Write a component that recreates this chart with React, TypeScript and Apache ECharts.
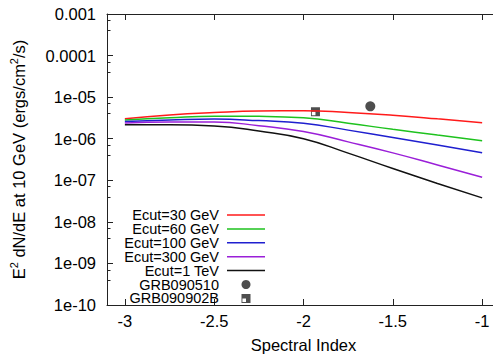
import React, { useEffect, useRef } from 'react';
import * as echarts from 'echarts';

const spectralIndex = [-3, -2.75, -2.5, -2.25, -2, -1.75, -1.5, -1.25, -1];
const ecut30 = [3.01e-6, 3.73e-6, 4.27e-6, 4.65e-6, 4.72e-6, 4.27e-6, 3.67e-6, 3.01e-6, 2.42e-6];
const ecut60 = [2.81e-6, 3.21e-6, 3.49e-6, 3.45e-6, 3.18e-6, 2.36e-6, 1.68e-6, 1.23e-6, 8.96e-7];
const ecut100 = [2.6e-6, 2.82e-6, 2.96e-6, 2.73e-6, 2.36e-6, 1.61e-6, 1.07e-6, 7.03e-7, 4.57e-7];
const ecut300 = [2.38e-6, 2.51e-6, 2.51e-6, 2.06e-6, 1.49e-6, 8.4e-7, 4.57e-7, 2.34e-7, 1.18e-7];
const ecut1tev = [2.17e-6, 2.17e-6, 2.02e-6, 1.53e-6, 1.0e-6, 4.5e-7, 1.92e-7, 8.38e-8, 3.77e-8];
const grb090510 = [[-1.626, 6.0e-6]];
const grb090902b = [[-1.933, 4.47e-6]];

const xTicks = [-3, -2.5, -2, -1.5, -1];
const yTickLabels: Record<string, string> = {
  '-10': '1e-10', '-9': '1e-09', '-8': '1e-08', '-7': '1e-07', '-6': '1e-06',
  '-5': '1e-05', '-4': '0.0001', '-3': '0.001',
};

const lineNames = ['Ecut=30 GeV', 'Ecut=60 GeV', 'Ecut=100 GeV', 'Ecut=300 GeV', 'Ecut=1 TeV'];
const lineValues = [ecut30, ecut60, ecut100, ecut300, ecut1tev];
const lineColors = ['#ff1a1a', '#1ec21e', '#1f1fcf', '#9a1fd8', '#111111'];

const FONT = '"Liberation Sans", Arial, sans-serif';

export default function App() {
  const ref = useRef<HTMLDivElement>(null);
  useEffect(() => {
    if (!ref.current) return;
    const chart = echarts.init(ref.current, undefined, { renderer: 'svg' });
    const lineSeries = lineNames.map((name, i) => ({
      name,
      type: 'line',
      smooth: true,
      symbol: 'none',
      data: spectralIndex.map((x, j) => [x, lineValues[i][j]]),
      lineStyle: { color: lineColors[i], width: 1.5 },
      itemStyle: { color: lineColors[i] },
    }));
    const axisCommon = {
      type: 'value',
      min: -3.1,
      max: -0.9,
      axisLine: { show: true, lineStyle: { color: '#222', width: 1 } },
      splitLine: { show: false },
    };
    chart.setOption({
      animation: false,
      grid: { left: 107, top: 14, bottom: 47, right: 0 },
      xAxis: [
        {
          ...axisCommon,
          position: 'bottom',
          name: 'Spectral Index',
          nameLocation: 'middle',
          nameGap: 31,
          nameTextStyle: { fontFamily: FONT, fontSize: 16.5, color: '#000' },
          axisTick: { show: true, inside: true, length: 6, customValues: xTicks, lineStyle: { color: '#222' } },
          axisLabel: { customValues: xTicks, fontFamily: FONT, fontSize: 16.5, color: '#000', margin: 7 },
        },
        {
          ...axisCommon,
          position: 'top',
          axisTick: { show: true, inside: true, length: 6, customValues: xTicks, lineStyle: { color: '#222' } },
          axisLabel: { show: false, customValues: xTicks },
        },
      ],
      yAxis: {
        type: 'log',
        logBase: 10,
        min: 1e-10,
        max: 1e-3,
        interval: 1,
        splitNumber: 7,
        name: 'E{sup|2} dN/dE at 10 GeV (ergs/cm{sup|2}/s)',
        nameLocation: 'middle',
        nameGap: 78,
        nameTextStyle: {
          fontFamily: FONT, fontSize: 16.5, color: '#000',
          rich: { sup: { fontFamily: FONT, fontSize: 11, verticalAlign: 'top', padding: [0, 0, 10, 0], color: '#000' } },
        },
        axisLine: { show: true, lineStyle: { color: '#222', width: 1 } },
        axisTick: { show: true, inside: true, length: 6, lineStyle: { color: '#222' } },
        minorTick: { show: true, splitNumber: 3, length: 3.5, lineStyle: { color: '#222' } },
        splitLine: { show: false },
        axisLabel: {
          fontFamily: FONT, fontSize: 16.5, color: '#000', margin: 11,
          formatter: (v: number) => yTickLabels[String(Math.round(Math.log10(v)))] ?? '',
        },
      },
      legend: {
        orient: 'vertical',
        align: 'right',
        right: 235,
        top: 207.5,
        padding: 0,
        itemWidth: 38,
        itemHeight: 9,
        itemGap: -1.1,
        textStyle: { fontFamily: FONT, fontSize: 14.5, color: '#000', lineHeight: 14, padding: [0, 3, 0, 0] },
        data: [
          ...lineNames.map((name) => ({ name, icon: 'path://M0,0H38V1.5H0Z' })),
          'GRB090510',
          'GRB090902B',
        ],
      },
      series: [
        ...lineSeries,
        {
          name: 'GRB090510',
          type: 'scatter',
          symbol: 'circle',
          symbolSize: 10,
          data: grb090510,
          itemStyle: { color: '#222' },
        },
        {
          name: 'GRB090902B',
          type: 'scatter',
          symbol: 'path://M0,0H10V10H0Z M1,5V9H5V5Z',
          symbolSize: 9,
          data: grb090902b,
          itemStyle: { color: '#222' },
        },
      ],
    });
    return () => chart.dispose();
  }, []);
  return (
    <div style={{ width: 493, height: 358, position: 'absolute', left: 0, top: 0, overflow: 'hidden' }}>
      <div ref={ref} style={{ width: 500, height: 358 }} />
    </div>
  );
}
